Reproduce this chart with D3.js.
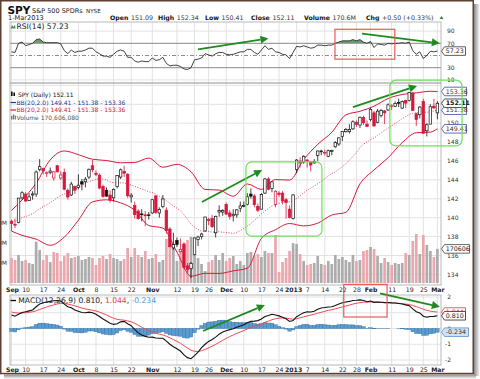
<!DOCTYPE html>
<html><head><meta charset="utf-8">
<script src="https://cdn.jsdelivr.net/npm/d3@7"></script>
<style>
html,body{margin:0;padding:0;background:#fff;}
svg{display:block;font-family:"DejaVu Sans",Verdana,sans-serif;}
</style></head><body>
<svg id="c" width="480" height="379"></svg>
<script>
// ---------------- DATA ----------------
const dates = ["9/4","9/5","9/6","9/7","9/10","9/11","9/12","9/13","9/14","9/17","9/18","9/19","9/20","9/21","9/24","9/25","9/26","9/27","9/28",
"10/1","10/2","10/3","10/4","10/5","10/8","10/9","10/10","10/11","10/12","10/15","10/16","10/17","10/18","10/19","10/22","10/23","10/24","10/25","10/26","10/31",
"11/1","11/2","11/5","11/6","11/7","11/8","11/9","11/12","11/13","11/14","11/15","11/16","11/19","11/20","11/21","11/23","11/26","11/27","11/28","11/29","11/30",
"12/3","12/4","12/5","12/6","12/7","12/10","12/11","12/12","12/13","12/14","12/17","12/18","12/19","12/20","12/21","12/24","12/26","12/27","12/28","12/31",
"1/2","1/3","1/4","1/7","1/8","1/9","1/10","1/11","1/14","1/15","1/16","1/17","1/18","1/22","1/23","1/24","1/25","1/28","1/29","1/30","1/31",
"2/1","2/4","2/5","2/6","2/7","2/8","2/11","2/12","2/13","2/14","2/15","2/19","2/20","2/21","2/22","2/25","2/26","2/27","2/28","3/1"];

const open = [139.6,139.3,139.5,142.1,142.5,141.8,142.4,142.5,145.1,145.2,
144.7,144.8,144.2,145.5,144.2,144.8,142.9,142.4,143.3,143.2,
143.8,143.8,144.3,145.5,144.7,144.5,143.3,142.9,142.4,142.1,
143.3,144.3,144.9,144.6,142.2,141.3,140.7,140.4,140.3,140.3,
140.5,142.3,140.5,141.2,140.8,138.8,136.8,137.6,136.4,137.2,
134.9,134.6,136.1,137.7,138.0,138.6,139.8,139.9,138.4,140.6,
140.6,141.4,140.5,140.2,140.3,141.0,141.2,141.4,142.5,142.3,
141.2,140.9,142.6,144.1,143.1,141.4,142.6,142.6,141.9,140.9,
139.9,145.1,146.0,145.9,146.1,145.9,145.8,146.6,147.0,146.9,
146.5,147.0,147.5,147.8,148.6,149.1,149.1,149.4,150.1,149.8,
150.6,149.9,150.4,151.1,150.1,150.8,151.3,151.4,151.8,151.8,
152.2,151.6,152.4,152.4,153.2,151.0,150.9,152.3,149.2,149.9,
151.8,151.09];
const high = [139.8,139.9,142.1,142.8,142.7,142.6,142.8,145.0,146.2,145.3,
144.9,145.3,144.9,145.6,144.9,145.2,143.1,143.8,143.4,144.6,
144.1,144.3,145.2,146.1,145.0,144.7,143.5,143.2,142.9,143.1,
144.5,145.2,145.5,144.7,142.6,141.7,140.9,140.9,140.7,140.6,
142.0,142.4,141.1,142.4,141.1,139.0,138.4,137.9,137.8,137.4,
135.2,135.3,137.9,138.1,138.4,140.1,140.0,140.3,140.2,141.3,
140.9,141.6,140.8,140.9,140.9,141.7,141.7,142.6,143.1,142.5,
141.5,142.6,144.2,144.3,143.8,142.9,142.8,142.8,142.1,141.3,
142.5,146.2,146.4,146.6,146.2,146.0,146.2,147.1,147.2,147.2,
147.2,147.2,148.1,148.5,149.1,149.5,149.9,150.3,150.3,150.7,
150.8,150.3,151.6,151.3,151.5,151.5,151.4,152.1,152.0,152.3,
152.6,152.4,152.5,153.3,153.3,151.1,151.8,152.6,150.0,152.0,
152.6,152.34];
const low = [138.6,138.9,139.4,141.9,141.7,141.8,141.9,142.2,144.9,144.6,
144.3,144.6,143.9,144.8,144.0,142.9,141.9,142.3,142.5,143.0,
142.9,143.2,144.1,144.8,144.4,143.0,142.1,142.2,141.6,141.7,
143.1,144.1,144.3,142.1,141.6,139.9,139.8,139.6,139.1,139.8,
140.4,140.4,140.0,141.0,138.3,136.9,136.6,136.9,136.3,134.6,
134.2,133.6,136.0,137.0,137.7,138.5,139.2,138.9,137.9,140.1,
140.2,140.3,139.8,139.6,140.0,140.6,141.1,141.3,142.0,141.1,
140.6,140.9,142.5,142.9,142.7,141.1,142.2,141.4,139.9,139.9,
139.8,144.7,145.3,145.7,145.3,144.9,145.7,146.0,146.6,146.6,
146.4,146.6,147.4,147.6,148.1,149.0,148.9,149.3,149.6,149.5,
149.8,149.6,150.2,149.6,150.0,150.6,149.9,151.3,151.4,151.7,
151.7,151.5,151.6,152.3,151.3,149.7,150.5,148.9,148.6,149.9,
151.5,150.41];
const close = [139.37,139.22,142.07,142.64,141.76,142.21,142.51,144.83,145.40,144.95,
144.76,144.94,144.86,144.85,144.52,143.01,142.19,143.56,142.91,143.44,
143.56,144.08,145.12,145.07,144.57,143.14,142.25,142.28,141.86,143.00,
144.47,145.07,144.71,142.32,142.38,140.32,139.89,140.31,140.20,140.23,
141.90,140.57,140.88,141.98,138.62,136.92,137.16,137.17,136.63,134.74,
134.52,135.17,137.86,137.95,138.27,140.07,139.79,139.05,140.15,140.75,
140.77,140.38,140.14,140.36,140.83,141.24,141.29,142.21,142.28,141.38,
140.79,142.46,144.10,143.01,143.79,142.80,142.45,141.77,141.60,140.03,
142.41,146.10,145.79,146.50,146.04,145.57,145.96,147.06,147.06,146.92,
147.09,147.12,147.95,148.45,149.11,149.33,149.33,150.15,149.87,150.63,
150.05,149.66,151.47,149.72,151.28,151.36,151.09,151.94,151.85,152.09,
152.19,152.29,152.13,153.25,151.35,150.39,151.71,148.93,149.84,151.75,
151.62,152.11];
const prevClose = 139.53;

// volume, millions of shares
const volume = [125,115,140,110,115,100,95,207,165,115,
140,105,155,150,110,135,150,125,130,135,
115,120,130,125,90,125,135,120,145,125,
120,110,120,175,130,175,140,130,160,120,
125,145,105,115,220,190,180,110,165,200,
215,230,140,125,95,60,105,115,140,115,
150,110,125,135,95,110,90,150,155,135,
145,130,160,150,150,240,55,105,125,160,
200,195,145,110,90,95,100,135,95,90,
110,95,140,120,130,115,105,140,110,115,
160,165,180,170,135,100,125,105,90,100,
95,100,150,140,210,245,145,240,190,160,
130,170.6];

// Bollinger bands (20,2.0)
const bbMiddle = [139.67,139.68,139.83,140.00,140.12,140.26,140.42,140.69,140.94,141.16,
141.36,141.60,141.83,142.12,142.34,142.50,142.62,142.80,143.00,143.20,
143.41,143.65,143.81,143.93,144.07,144.11,144.10,143.97,143.80,143.70,
143.68,143.69,143.68,143.56,143.45,143.32,143.20,143.04,142.90,142.74,
142.66,142.48,142.27,142.12,141.82,141.51,141.25,141.00,140.74,140.32,
139.83,139.33,138.99,138.77,138.56,138.55,138.55,138.48,138.48,138.51,
138.45,138.44,138.40,138.32,138.43,138.65,138.86,139.11,139.39,139.72,
140.04,140.40,140.71,140.97,141.24,141.38,141.51,141.65,141.72,141.68,
141.77,142.05,142.33,142.64,142.90,143.12,143.35,143.59,143.83,144.11,
144.43,144.66,144.85,145.12,145.39,145.72,146.06,146.48,146.89,147.42,
147.80,147.98,148.27,148.43,148.69,148.98,149.24,149.48,149.72,149.98,
150.23,150.49,150.70,150.94,151.05,151.10,151.22,151.16,151.16,151.22,
151.30,151.38];
const bbIdx = [0,3,7,11,15,19,23,27,31,35,39,43,47,51,55,59,63,67,71,75,79,83,87,91,95,99,103,107,111,115,119,121];
const bbUpper = [140.76,141.87,143.65,146.12,147.06,146.67,146.19,146.05,145.81,145.84,146.31,145.34,145.64,144.86,142.99,142.92,142.27,143.57,142.99,144.03,143.98,146.15,147.76,149.04,150.88,151.26,151.80,152.61,153.04,153.21,153.38,153.36];
const bbLower = [138.58,138.13,137.73,137.08,137.94,139.73,141.67,141.89,141.57,140.80,139.17,138.90,136.36,133.80,134.11,134.10,134.37,134.65,137.81,138.73,139.38,139.13,139.42,140.28,140.56,143.58,145.06,146.35,147.94,148.99,149.06,149.41];

// RSI(14)
const rsi = [56,55,70,72,66,68,70,76,77,72,
71,71,71,71,69,58,53,59,55,57,
57,59,62,62,56,53,49,49,47,52,
57,59,57,47,47,41,39,41,40,40,
46,42,43,47,37,33,34,34,32,28,
27,30,43,44,46,53,51,49,53,55,
55,52,51,52,54,56,56,60,60,55,
52,59,66,60,62,56,55,52,51,45,
55,65,64,66,64,62,63,67,67,66,
67,67,70,72,74,74,74,76,74,76,
72,70,73,63,69,68,67,70,69,70,
70,71,70,72,58,52,56,45,50,57,
56,57.23];

// MACD(12,26,9)
const macd = [0.86,0.78,0.90,1.02,1.06,1.12,1.18,1.38,1.55,1.63,
1.68,1.72,1.76,1.78,1.74,1.55,1.38,1.32,1.18,1.10,
1.02,1.00,1.04,1.00,0.90,0.76,0.60,0.48,0.34,0.26,
0.30,0.42,0.45,0.30,0.18,-0.06,-0.28,-0.41,-0.50,-0.56,
-0.55,-0.60,-0.62,-0.62,-0.80,-1.00,-1.16,-1.29,-1.43,-1.68,
-1.85,-1.92,-1.72,-1.50,-1.22,-1.00,-0.82,-0.70,-0.55,-0.36,
-0.22,-0.14,-0.07,-0.01,0.08,0.16,0.24,0.36,0.45,0.47,
0.50,0.60,0.76,0.82,0.90,0.86,0.80,0.72,0.62,0.45,
0.50,0.75,0.88,1.00,1.06,1.05,1.10,1.22,1.30,1.33,
1.37,1.38,1.46,1.55,1.63,1.68,1.72,1.78,1.79,1.82,
1.78,1.70,1.74,1.66,1.68,1.67,1.64,1.65,1.63,1.62,
1.59,1.56,1.50,1.45,1.25,1.07,0.99,0.78,0.72,0.76,
0.77,0.810];
const signal = [1.05,1.00,0.98,0.99,1.00,1.03,1.06,1.12,1.21,1.29,
1.37,1.44,1.50,1.56,1.60,1.59,1.55,1.50,1.44,1.37,
1.30,1.24,1.20,1.16,1.11,1.04,0.95,0.86,0.75,0.65,
0.58,0.55,0.53,0.48,0.42,0.33,0.21,0.08,-0.03,-0.14,
-0.22,-0.30,-0.36,-0.41,-0.49,-0.59,-0.71,-0.82,-0.94,-1.09,
-1.24,-1.38,-1.45,-1.46,-1.41,-1.33,-1.23,-1.12,-1.01,-0.88,
-0.75,-0.63,-0.51,-0.41,-0.31,-0.22,-0.13,-0.03,0.07,0.15,
0.22,0.29,0.39,0.47,0.56,0.62,0.66,0.67,0.66,0.62,
0.59,0.62,0.68,0.74,0.80,0.85,0.90,0.97,1.03,1.09,
1.15,1.19,1.25,1.31,1.37,1.43,1.49,1.55,1.60,1.64,
1.67,1.68,1.69,1.68,1.67,1.66,1.65,1.64,1.63,1.62,
1.60,1.58,1.55,1.52,1.46,1.39,1.32,1.22,1.15,1.10,
1.07,1.044];
const hist = [-0.19,-0.22,-0.08,0.03,0.06,0.09,0.12,0.26,0.34,0.34,
0.31,0.28,0.26,0.22,0.14,-0.04,-0.17,-0.18,-0.26,-0.27,
-0.28,-0.24,-0.16,-0.16,-0.21,-0.28,-0.35,-0.38,-0.41,-0.39,
-0.28,-0.13,-0.08,-0.18,-0.24,-0.39,-0.49,-0.49,-0.47,-0.42,
-0.33,-0.30,-0.26,-0.21,-0.31,-0.41,-0.45,-0.47,-0.49,-0.59,
-0.61,-0.54,-0.27,-0.04,0.19,0.33,0.41,0.42,0.46,0.52,
0.53,0.49,0.44,0.40,0.39,0.38,0.37,0.39,0.38,0.32,
0.28,0.31,0.37,0.35,0.34,0.24,0.14,0.05,-0.04,-0.17,
-0.09,0.13,0.20,0.26,0.26,0.20,0.20,0.25,0.27,0.24,
0.22,0.19,0.21,0.24,0.26,0.25,0.23,0.23,0.19,0.18,
0.11,0.02,0.05,-0.02,0.01,0.01,-0.01,0.01,0.00,0.00,
-0.01,-0.02,-0.05,-0.07,-0.21,-0.32,-0.33,-0.44,-0.43,-0.34,
-0.30,-0.234];

// axis ticks
const tickIdx = [0,4,9,14,19,24,29,34,40,47,52,56,61,66,71,76,81,84,89,94,98,102,108,113,117,121];
const tickLabels = ["Sep","10","17","24","Oct","8","15","22","Nov","12","19","26","Dec","10","17","24","2013","7","14","22","28","Feb","11","19","25","Mar"];
const boldTicks = ["Sep","Oct","Nov","Dec","2013","Feb","Mar"];
const priceTicks = [134,136,138,140,142,144,146,148,150,152,154];
const rsiTicks = [90,70,50,30,10];
const macdTicks = [2,1,0,-1,-2];
const volTicks = [100,200,300];

// header
const headerFields = [["Open","151.09"],["High","152.34"],["Low","150.41"],["Close","152.11"],["Volume","170.6M"],["Chg","+0.50 (+0.33%)"]];

// annotations (in data coordinates: [index, value])
const rsiArrows = [[[53,60],[73,78]],[[99.6,86],[121.7,70]]];
const rsiBox = [[91.9,93],[108.9,44]];
const priceArrows = [[[54.1,141.66],[71.2,145.05]],[[97,151.7],[115.2,153.95]]];
const priceBoxes = [[[66.6,145.9],[88.2,138.05]],[[107.5,154.55],[128,147.6]]];
const macdArrows = [[[54.4,-0.16],[72,1.49]],[[104.7,2.23],[121.7,1.38]]];
const macdBox = [[94.4,2.8],[106.7,0.73]];

// ---------------- LAYOUT ----------------
const svg = d3.select("#c");
const L = 10, R = 441;
const RSI = {t:22, b:83}, PR = {t:83, b:285}, MC = {t:295, b:365};
const RED = "#d8173d", GRID = "#e2e2e2";

const x = d3.scaleLinear().domain([0,121]).range([11.5,437.4]);
const y = d3.scaleLinear().domain([132.98,154.15]).range([284,84]);
const vy = d3.scaleLinear().domain([0,400]).range([283,203]);
const ry = d3.scaleLinear().domain([0,100]).range([86,25]);
const my = d3.scaleLinear().domain([-2,2]).range([360,297]);

// background + frame shadow
svg.append("rect").attr("width",480).attr("height",379).attr("fill","#fff");
const defs = svg.append("defs");
const g1 = defs.append("linearGradient").attr("id","shR").attr("x1",0).attr("x2",1).attr("y1",0).attr("y2",0);
g1.append("stop").attr("offset",0).attr("stop-color","#8a8a8a");
g1.append("stop").attr("offset",1).attr("stop-color","#ffffff");
const g2 = defs.append("linearGradient").attr("id","shB").attr("x1",0).attr("x2",0).attr("y1",0).attr("y2",1);
g2.append("stop").attr("offset",0).attr("stop-color","#8a8a8a");
g2.append("stop").attr("offset",1).attr("stop-color","#ffffff");
svg.append("rect").attr("x",474).attr("y",4).attr("width",6).attr("height",372).attr("fill","url(#shR)");
svg.append("rect").attr("x",4).attr("y",374.5).attr("width",472).attr("height",4.5).attr("fill","url(#shB)");
defs.append("clipPath").attr("id","clipRsi").append("rect").attr("x",L).attr("y",RSI.t).attr("width",R-L).attr("height",ry(70)-RSI.t);

// gridlines & panel frames
function vgrid(t,b){
  svg.append("g").selectAll("line").data(tickIdx).join("line")
    .attr("x1",d=>x(d)).attr("x2",d=>x(d)).attr("y1",t).attr("y2",b)
    .attr("stroke",GRID).attr("stroke-width",1);
}
vgrid(RSI.t,RSI.b); vgrid(PR.t,PR.b); vgrid(MC.t,MC.b);
svg.append("g").selectAll("line").data(priceTicks.filter(p=>y(p)>PR.t)).join("line")
  .attr("x1",L).attr("x2",R).attr("y1",d=>y(d)).attr("y2",d=>y(d)).attr("stroke",GRID);
svg.append("g").selectAll("line").data(macdTicks).join("line")
  .attr("x1",L).attr("x2",R).attr("y1",d=>my(d)).attr("y2",d=>my(d)).attr("stroke",GRID);
svg.append("g").selectAll("line").data([90,10]).join("line")
  .attr("x1",L).attr("x2",R).attr("y1",d=>ry(d)).attr("y2",d=>ry(d)).attr("stroke",GRID);
svg.append("g").selectAll("line").data([70,30]).join("line")
  .attr("x1",L).attr("x2",R).attr("y1",d=>ry(d)).attr("y2",d=>ry(d)).attr("stroke","#8c8c8c");
svg.append("line").attr("x1",L).attr("x2",R).attr("y1",ry(50)).attr("y2",ry(50))
  .attr("stroke","#8c8c8c").attr("stroke-dasharray","4,2,1,2");

[RSI,PR,MC].forEach(p=>{
  svg.append("rect").attr("x",L).attr("y",p.t).attr("width",R-L).attr("height",p.b-p.t)
    .attr("fill","none").attr("stroke","#a8a8a8").attr("stroke-width",0.8);
});

// ---------- RSI ----------
svg.append("path").datum(rsi).attr("clip-path","url(#clipRsi)")
  .attr("d",d3.area().x((d,i)=>x(i)).y0(ry(70)).y1(d=>ry(d)))
  .attr("fill","#6f9a70");
svg.append("path").datum(rsi).attr("fill","none").attr("stroke","#2b2b2b").attr("stroke-width",0.9)
  .attr("d",d3.line().x((d,i)=>x(i)).y(d=>ry(d)));
svg.append("g").selectAll("text").data(rsiTicks.filter(d=>d!==50)).join("text")
  .attr("x",447).attr("y",d=>ry(d)+2.2).attr("font-size",6).attr("fill","#333").text(d=>d);

// ---------- VOLUME ----------
const upColor = (i)=> close[i] >= (i===0?prevClose:close[i-1]);
svg.append("g").selectAll("rect").data(volume).join("rect")
  .attr("x",(d,i)=>x(i)-1.35).attr("width",2.7)
  .attr("y",d=>vy(d)).attr("height",d=>vy(0)-vy(d))
  .attr("fill",(d,i)=>upColor(i)?"#acacac":"#eaa7ae");
svg.append("g").selectAll("text").data(volTicks).join("text")
  .attr("x",7).attr("y",d=>vy(d)+2.2).attr("text-anchor","end").attr("font-size",6).attr("fill","#333").text(d=>d+"M");

// ---------- BOLLINGER ----------
const bbLine = d3.line().x(d=>x(d[0])).y(d=>y(d[1])).curve(d3.curveMonotoneX);
svg.append("path").datum(bbIdx.map((k,j)=>[k,bbUpper[j]])).attr("d",bbLine)
  .attr("fill","none").attr("stroke",RED).attr("stroke-width",1);
svg.append("path").datum(bbIdx.map((k,j)=>[k,bbLower[j]])).attr("d",bbLine)
  .attr("fill","none").attr("stroke",RED).attr("stroke-width",1);
svg.append("path").datum(bbMiddle.map((v,i)=>[i,v])).attr("d",d3.line().x(d=>x(d[0])).y(d=>y(d[1])))
  .attr("fill","none").attr("stroke",RED).attr("stroke-width",0.8).attr("stroke-dasharray","1,1.6");

// ---------- CANDLES ----------
const cg = svg.append("g");
close.forEach((c,i)=>{
  const col = upColor(i) ? "#111" : RED;
  const hollow = c > open[i];
  cg.append("line").attr("x1",x(i)).attr("x2",x(i)).attr("y1",y(high[i])).attr("y2",y(low[i]))
    .attr("stroke",col).attr("stroke-width",0.8);
  const top = y(Math.max(open[i],c)), bot = y(Math.min(open[i],c));
  cg.append("rect").attr("x",x(i)-1.25).attr("width",2.5).attr("y",top).attr("height",Math.max(bot-top,0.8))
    .attr("fill",hollow?"#fff":col).attr("stroke",col).attr("stroke-width",0.7);
});

// price axis labels
svg.append("g").selectAll("text").data(priceTicks.filter(p=>p<154)).join("text")
  .attr("x",447).attr("y",d=>y(d)+2.2).attr("font-size",6).attr("fill","#333").text(d=>d);

// ---------- MACD ----------
svg.append("g").selectAll("rect").data(hist).join("rect")
  .attr("x",(d,i)=>x(i)-1.76).attr("width",3.52)
  .attr("y",d=>Math.min(my(d),my(0))).attr("height",d=>Math.abs(my(d)-my(0)))
  .attr("fill","#5b9bd0").attr("stroke","#2d6ea3").attr("stroke-width",0.4);
svg.append("path").datum(signal).attr("fill","none").attr("stroke","#f04a50").attr("stroke-width",1)
  .attr("d",d3.line().x((d,i)=>x(i)).y(d=>my(d)));
svg.append("path").datum(macd).attr("fill","none").attr("stroke","#111").attr("stroke-width",1.1)
  .attr("d",d3.line().x((d,i)=>x(i)).y(d=>my(d)));
svg.append("g").selectAll("text").data(macdTicks).join("text")
  .attr("x",451).attr("y",d=>my(d)+2.2).attr("text-anchor","end").attr("font-size",6).attr("fill","#333").text(d=>d);

// ---------- X AXES ----------
function xAxis(yy){
  const ax = d3.axisBottom(x).tickValues(tickIdx).tickFormat((d,i)=>tickLabels[i]).tickSize(0).tickPadding(0);
  const g = svg.append("g").attr("transform",`translate(0,${yy})`).call(ax);
  g.select(".domain").remove();
  g.selectAll("text").attr("font-size",6.2).attr("fill","#222").attr("font-family","DejaVu Sans, Verdana, sans-serif")
    .attr("font-weight",(d,i)=>boldTicks.includes(tickLabels[i])?"bold":"normal")
    .attr("dx",(d,i)=>tickLabels[i]==="2013"?-3.5:(tickLabels[i]==="Sep"?0.5:0))
    .attr("dy","0");
}
xAxis(292.2); xAxis(371.6);

// ---------- TAGS ----------
function tag(yv, txt, stroke, fill, tcol, bold, w){
  const x0 = 441.5, x1 = 444.5, x2 = x1 + w;
  svg.append("path").attr("d",`M${x0},${yv} L${x1},${yv-4.3} L${x2},${yv-4.3} L${x2},${yv+4.3} L${x1},${yv+4.3} Z`)
    .attr("fill",fill).attr("stroke",stroke).attr("stroke-width",0.8);
  svg.append("text").attr("x",x1+1.2).attr("y",yv+2.2).attr("font-size",6.3).attr("fill",tcol)
    .attr("font-weight",bold?"bold":"normal").text(txt);
}
tag(ry(57.23),"57.23","#333","#fff","#222",false,21);
tag(y(153.36),"153.36","#3848a8","#fff","#333",false,22);
tag(y(149.41),"149.41","#3848a8","#fff","#333",false,22);
tag(y(151.38),"151.38","#3848a8","#fff","#333",false,22);
tag(y(152.11),"152.11","#222","#fff","#111",true,22);
tag(vy(170.6),"170606","#444","#fff","#222",false,25);
tag(my(1.044),"1.044","#e03a40","#fff","#e03a40",false,21);
tag(my(0.81),"0.810","#222","#fff","#222",false,21);
tag(my(-0.234),"-0.234","#5b8fc8","#cfe2f5","#333",false,24);

// ---------- ANNOTATIONS ----------
function arrow(p1,p2,sy){
  const x1=x(p1[0]),y1=sy(p1[1]),x2=x(p2[0]),y2=sy(p2[1]);
  const a=Math.atan2(y2-y1,x2-x1), hl=8, hw=4;
  const bx=x2-hl*Math.cos(a), by=y2-hl*Math.sin(a);
  svg.append("line").attr("x1",x1).attr("y1",y1).attr("x2",bx).attr("y2",by)
    .attr("stroke","#1f8a1f").attr("stroke-width",1.8);
  svg.append("path").attr("d",`M${x2},${y2} L${bx+hw*Math.sin(a)},${by-hw*Math.cos(a)} L${bx-hw*Math.sin(a)},${by+hw*Math.cos(a)} Z`)
    .attr("fill","#1f8a1f");
}
rsiArrows.forEach(a=>arrow(a[0],a[1],ry));
priceArrows.forEach(a=>arrow(a[0],a[1],y));
macdArrows.forEach(a=>arrow(a[0],a[1],my));
function box(b,sy,col,r){
  const x1=x(b[0][0]),y1=sy(b[0][1]),x2=x(b[1][0]),y2=sy(b[1][1]);
  svg.append("rect").attr("x",x1).attr("y",y1).attr("width",x2-x1).attr("height",y2-y1)
    .attr("rx",r).attr("fill","none").attr("stroke",col).attr("stroke-width",1.2);
}
box(rsiBox,ry,"#e85a5a",0);
box(macdBox,my,"#e85a5a",0);
priceBoxes.forEach(b=>box(b,y,"#6fe05a",6));

// ---------- LEGENDS ----------
svg.append("path").attr("d","M10.5,28.5 L12,25 L13.5,27 L15,24.5 L15.5,28.5 Z").attr("fill","#5d8a5d");
svg.append("text").attr("x",16.5).attr("y",28.8).attr("font-size",7.6).attr("fill","#222").text("RSI(14) 57.23");
svg.append("rect").attr("x",11).attr("y",91.5).attr("width",1.6).attr("height",4.5).attr("fill","#111");
svg.append("rect").attr("x",13.4).attr("y",92.5).attr("width",1.6).attr("height",3.5).attr("fill","#111");
svg.append("text").attr("x",18).attr("y",96.5).attr("font-size",6).attr("fill","#111").text("SPY (Daily) 152.11");
svg.append("line").attr("x1",10.5).attr("x2",16).attr("y1",102.5).attr("y2",102.5).attr("stroke","#2838a0").attr("stroke-width",1.2);
svg.append("text").attr("x",16.5).attr("y",104.6).attr("font-size",6).attr("fill","#2838a0").text("BB(20,2.0) 149.41 - 151.38 - 153.36");
svg.append("line").attr("x1",10.5).attr("x2",16).attr("y1",110).attr("y2",110).attr("stroke",RED).attr("stroke-width",1.2);
svg.append("text").attr("x",16.5).attr("y",112.1).attr("font-size",6).attr("fill",RED).text("BB(20,2.0) 149.41 - 151.38 - 153.36");
svg.append("rect").attr("x",11).attr("y",116).attr("width",1.3).attr("height",3.5).attr("fill","#777");
svg.append("rect").attr("x",12.8).attr("y",114.5).attr("width",1.3).attr("height",5).attr("fill","#777");
svg.append("rect").attr("x",14.6).attr("y",115.5).attr("width",1.3).attr("height",4).attr("fill","#777");
svg.append("text").attr("x",16.5).attr("y",119.6).attr("font-size",6).attr("fill","#555").text("Volume 170,606,080");
svg.append("line").attr("x1",10.5).attr("x2",16).attr("y1",300.5).attr("y2",300.5).attr("stroke","#111").attr("stroke-width",1.4);
const mt = svg.append("text").attr("x",18.3).attr("y",302.8).attr("font-size",7.6).attr("fill","#222");
mt.append("tspan").text("MACD(12,26,9) 0.810, ");
mt.append("tspan").attr("fill","#e03a40").text("1.044");
mt.append("tspan").text(", ");
mt.append("tspan").attr("fill","#4a9ad8").text("-0.234");

// ---------- HEADER ----------
svg.append("text").attr("x",7.5).attr("y",13.5).attr("font-size",10.5).attr("font-weight","bold").attr("fill","#111").text("SPY");
svg.append("text").attr("x",32).attr("y",12.5).attr("font-size",6.5).attr("fill","#222").text("S&P 500 SPDRs");
svg.append("text").attr("x",86).attr("y",12.5).attr("font-size",5.6).attr("fill","#222").text("NYSE");
svg.append("text").attr("x",8).attr("y",20).attr("font-size",6.6).attr("fill","#222").text("1-Mar2013");
const hx = [110,158,205,251,304,366];
headerFields.forEach((f,k)=>{
  const lab = svg.append("text").attr("x",hx[k]).attr("y",19.6).attr("font-size",6.2).attr("font-weight","bold").attr("fill","#111").text(f[0]);
  const w = lab.node().getComputedTextLength();
  svg.append("text").attr("x",hx[k]+w+2.6).attr("y",19.6).attr("font-size",6.3).attr("fill","#333").text(f[1]);
});
svg.append("path").attr("d","M439.5,19 L441.5,16 L443.5,19 Z").attr("fill","#2a8a3a");

// frame border
svg.append("rect").attr("x",0.75).attr("y",0.75).attr("width",472.5).attr("height",372.8)
  .attr("fill","none").attr("stroke","#5e3f30").attr("stroke-width",1.5);
</script></body></html>
